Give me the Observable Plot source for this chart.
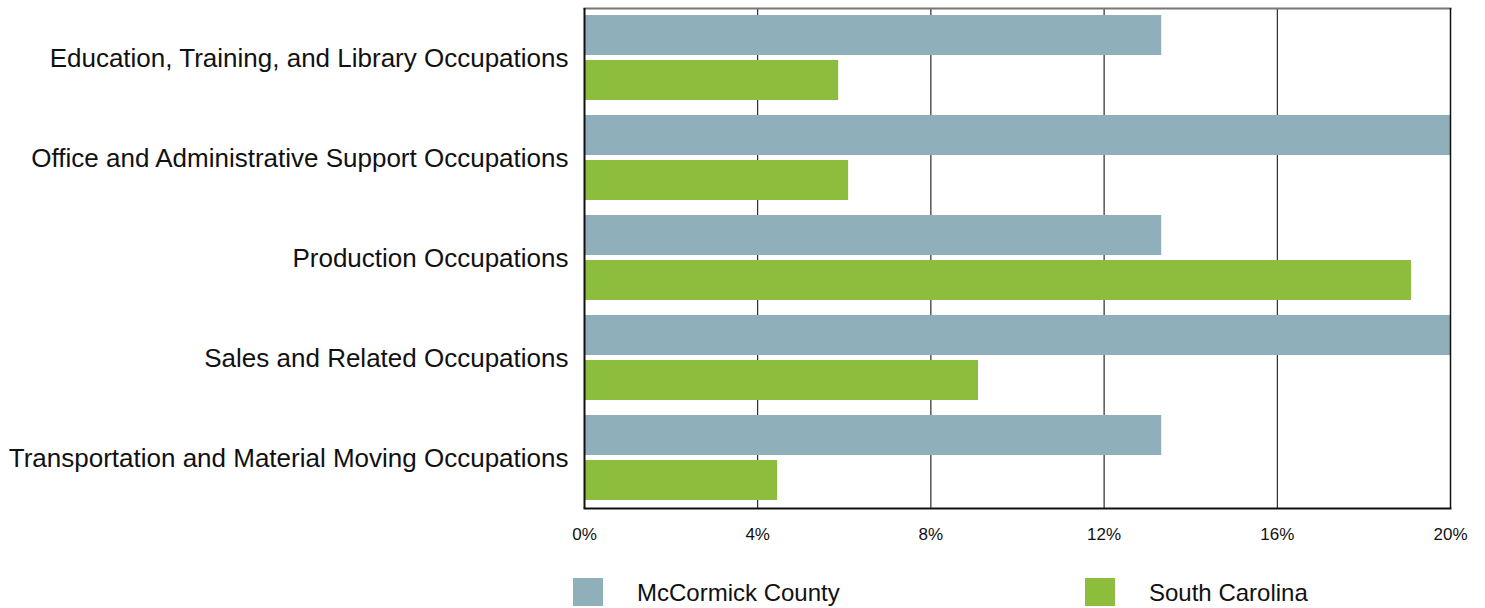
<!DOCTYPE html>
<html>
<head>
<meta charset="utf-8">
<script src="https://cdn.jsdelivr.net/npm/d3@7"></script>
<script src="https://cdn.jsdelivr.net/npm/@observablehq/plot@0.6"></script>
<style>
  html, body { margin: 0; padding: 0; background: #fff; }
  body { width: 1485px; height: 608px; overflow: hidden; font-family: "Liberation Sans", Arial, sans-serif; }
  #legend { position: relative; height: 48px; }
  .item { position: absolute; top: 18px; display: flex; align-items: center; }
  .sw { width: 30px; height: 28px; }
  .lab { font-size: 24px; color: #111; margin-left: 34px; position: relative; top: 1px; }
</style>
</head>
<body>
<div id="chart"></div>
<div id="legend"></div>
<script>
const categories = [
  "Education, Training, and Library Occupations",
  "Office and Administrative Support Occupations",
  "Production Occupations",
  "Sales and Related Occupations",
  "Transportation and Material Moving Occupations"
];
const seriesNames = ["McCormick County", "South Carolina"];
const mccormick = [13.33, 20, 13.33, 20, 13.33];
const southCarolina = [5.87, 6.1, 19.1, 9.1, 4.46];
const xTicks = [0, 4, 8, 12, 16, 20];
const colors = ["#8FAFBA", "#8DBD3C"];

const dataMc = categories.map((c, i) => ({category: c, value: mccormick[i]}));
const dataSc = categories.map((c, i) => ({category: c, value: southCarolina[i]}));

const chart = Plot.plot({
  width: 1485,
  height: 560,
  marginLeft: 584,
  marginRight: 35,
  marginTop: 8,
  marginBottom: 52,
  style: {fontFamily: "'Liberation Sans', Arial, sans-serif", fontSize: "16px", color: "#111", background: "#fff"},
  x: {domain: [0, 20], label: null},
  y: {domain: categories, padding: 0, label: null},
  marks: [
    Plot.ruleX(xTicks.slice(1, -1), {stroke: "#000", strokeWidth: 1}),
    Plot.barX(dataMc, {x: "value", y: "category", fill: colors[0], insetTop: 7, insetBottom: 53}),
    Plot.barX(dataSc, {x: "value", y: "category", fill: colors[1], insetTop: 52, insetBottom: 8}),
    Plot.frame({anchor: "top", stroke: "#777", strokeWidth: 2}),
    Plot.frame({anchor: "bottom", stroke: "#111", strokeWidth: 2}),
    Plot.ruleX([0], {stroke: "#111", strokeWidth: 2}),
    Plot.ruleX([20], {stroke: "#111", strokeWidth: 1.5}),
    Plot.axisX({ticks: xTicks, tickFormat: d => d + "%", tickSize: 0, tickPadding: 19, fontSize: 17, label: null}),
    Plot.axisY({tickSize: 0, tickPadding: 16, fontSize: 26, label: null})
  ]
});
document.getElementById("chart").appendChild(chart);

const legend = document.getElementById("legend");
const lx = [573, 1085];
seriesNames.forEach((name, i) => {
  const it = document.createElement("div");
  it.className = "item";
  it.style.left = lx[i] + "px";
  it.innerHTML = `<div class="sw" style="background:${colors[i]}"></div><div class="lab">${name}</div>`;
  legend.appendChild(it);
});
</script>
</body>
</html>
